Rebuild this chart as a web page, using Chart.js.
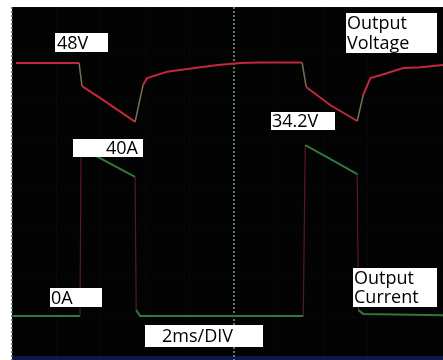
<!DOCTYPE html>
<html>
<head>
<meta charset="utf-8">
<script src="https://cdn.jsdelivr.net/npm/chart.js@4"></script>
<style>
  body { margin: 0; background: #fff; }
  canvas { display: block; }
</style>
</head>
<body>
<canvas id="scope" width="443" height="360"></canvas>
<script>
// 電圧波形 (ms, V)
var voltTime   = [0.18, 3.02, 3.15, 3.96, 4.77, 5.54, 5.90, 6.08, 6.98, 8.47, 9.28, 10.27, 11.17, 12.97, 13.06, 13.24, 14.32, 15.54, 15.81, 16.13, 16.58, 17.61, 18.38, 19.41];
var voltValues = [48.0, 48.0, 42.5, 39.7, 36.8, 34.0, 42.8, 44.4, 45.9, 47.0, 47.5, 48.0, 48.1, 48.1, 48.1, 42.3, 38.0, 34.2, 40.4, 44.4, 45.1, 46.8, 47.0, 47.5];

// 電流波形 (ms, A)
var currTime   = [0.05, 3.06, 3.11, 3.96, 5.54, 5.59, 5.77, 13.11, 13.20, 14.32, 15.54, 15.59, 15.81, 19.41];
var currValues = [0, 0, 40.0, 37.6, 33.1, 1.4, 0, 0, 40.7, 37.4, 33.8, 1.4, 0.5, 0.2];

// 注記ラベル
var labelTexts = ["48V", "40A", "34.2V", "0A", "2ms/DIV", "Output\nVoltage", "Output\nCurrent"];

function toPoints(xs, ys) {
  return xs.map(function (x, i) { return { x: x, y: ys[i] }; });
}

function steep(ctx) {
  var dx = Math.abs(ctx.p1.x - ctx.p0.x);
  var dy = Math.abs(ctx.p1.y - ctx.p0.y);
  return dy > 3 * Math.max(dx, 0.1);
}

// 背景 (白い余白 + 黒い画面)
var scopeBg = {
  id: 'scopeBg',
  beforeDraw: function (chart) {
    var c = chart.ctx, a = chart.chartArea;
    c.save();
    c.fillStyle = '#ffffff';
    c.fillRect(0, 0, chart.width, chart.height);
    c.fillStyle = '#030303';
    c.fillRect(a.left, a.top, a.right - a.left, a.bottom - a.top);
    c.fillStyle = '#0e1748';
    c.fillRect(a.left, a.bottom - 4, a.right - a.left, 4);
    c.restore();
  }
};

// 白い箱の注記
var boxes = [
  { t: 0, x: 55,  y: 33,  w: 53, h: 19, tx: 57,  align: 'left' },
  { t: 1, x: 73,  y: 139, w: 70, h: 18, tx: 138, align: 'right' },
  { t: 2, x: 271, y: 112, w: 64, h: 18, tx: 272, align: 'left' },
  { t: 3, x: 50,  y: 288, w: 52, h: 19, tx: 51,  align: 'left' },
  { t: 4, x: 145, y: 325, w: 118, h: 22, tx: 162, align: 'left' },
  { t: 5, x: 346, y: 13,  w: 91, h: 40, tx: 347, align: 'left' },
  { t: 6, x: 353, y: 268, w: 84, h: 39, tx: 354, align: 'left' }
];

var scopeLabels = {
  id: 'scopeLabels',
  afterDraw: function (chart) {
    var c = chart.ctx;
    c.save();
    boxes.forEach(function (b) {
      c.fillStyle = '#ffffff';
      c.fillRect(b.x, b.y, b.w, b.h);
      c.fillStyle = '#000000';
      c.font = '18px "Open Sans"';
      c.textAlign = b.align;
      c.textBaseline = 'middle';
      var lines = labelTexts[b.t].split('\n');
      var lh = b.h / lines.length;
      lines.forEach(function (ln, i) {
        c.fillText(ln, b.tx, b.y + lh * (i + 0.5) + 1);
      });
    });
    c.restore();
  }
};

var ctx = document.getElementById('scope').getContext('2d');

var scopeChart = new Chart(ctx, {
  type: 'scatter',
  data: {
    datasets: [{
      label: 'Output Voltage',
      data: toPoints(voltTime, voltValues),
      yAxisID: 'yV',
      showLine: true,
      pointRadius: 0,
      borderWidth: 2,
      borderColor: 'rgb(195,40,58)',
      segment: {
        borderColor: function (c) { return steep(c) ? 'rgb(120,115,80)' : undefined; },
        borderWidth: function (c) { return steep(c) ? 1.5 : undefined; }
      }
    }, {
      label: 'Output Current',
      data: toPoints(currTime, currValues),
      yAxisID: 'yA',
      showLine: true,
      pointRadius: 0,
      borderWidth: 2,
      borderColor: 'rgb(50,120,58)',
      segment: {
        borderColor: function (c) { return steep(c) ? 'rgba(125,35,55,0.7)' : undefined; },
        borderWidth: function (c) { return steep(c) ? 1.2 : undefined; }
      }
    }]
  },
  options: {
    responsive: false,
    animation: false,
    layout: { padding: { left: 12, top: 7, right: 0, bottom: 0 } },
    plugins: {
      legend: { display: false },
      tooltip: { enabled: false }
    },
    scales: {
      x: {
        type: 'linear',
        min: 0,
        max: 19.4,
        ticks: { display: false, stepSize: 2 },
        border: { display: false, dash: [2, 2] },
        grid: {
          drawTicks: false,
          color: function (c) {
            if (c.tick && c.tick.value === 10) return 'rgba(100,140,118,0.85)';
            if (c.tick && c.tick.value === 0) return 'rgba(85,95,90,0.8)';
            return 'rgba(255,255,255,0.035)';
          },
          lineWidth: function (c) {
            return (c.tick && (c.tick.value === 10 || c.tick.value === 0)) ? 2 : 1;
          }
        }
      },
      div: {
        type: 'linear',
        position: 'left',
        min: 0.045,
        max: 8.068,
        ticks: { display: false, stepSize: 1 },
        border: { display: false, dash: [2, 2] },
        grid: { drawTicks: false, color: 'rgba(255,255,255,0.03)' }
      },
      yV: { type: 'linear', display: false, min: -22.66, max: 61.32 },
      yA: { type: 'linear', display: false, min: -10.48, max: 73.57 }
    }
  },
  plugins: [scopeBg, scopeLabels]
});
</script>
</body>
</html>
